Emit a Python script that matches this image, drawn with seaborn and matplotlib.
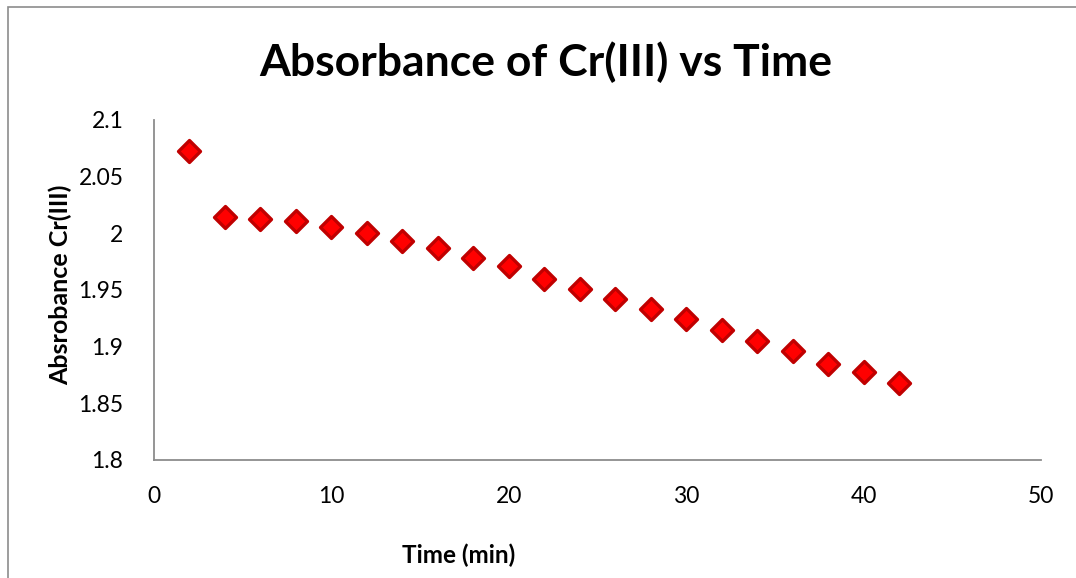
import matplotlib
matplotlib.use("Agg")
import matplotlib.pyplot as plt
import seaborn as sns
import pandas as pd
from matplotlib.patches import Rectangle

# Reaction data: absorbance of Cr(III) sampled every 2 minutes
time_min = [2, 4, 6, 8, 10, 12, 14, 16, 18, 20, 22,
            24, 26, 28, 30, 32, 34, 36, 38, 40, 42]
absorbance = [2.073, 2.014, 2.013, 2.011, 2.006, 2.000, 1.993, 1.987,
              1.978, 1.971, 1.960, 1.951, 1.942, 1.933, 1.924, 1.915,
              1.905, 1.896, 1.885, 1.878, 1.868]

x_ticks = [0, 10, 20, 30, 40, 50]
y_ticks = [1.8, 1.85, 1.9, 1.95, 2.0, 2.05, 2.1]
y_tick_labels = ["1.8", "1.85", "1.9", "1.95", "2", "2.05", "2.1"]

title = "Absorbance of Cr(III) vs Time"
x_label = "Time (min)"
y_label = "Absrobance Cr(III)"

df = pd.DataFrame({"time": time_min, "absorbance": absorbance})

sns.set_theme(style="white")
plt.rcParams["font.family"] = ["Lato", "DejaVu Sans"]

W, H = 1076, 578
fig = plt.figure(figsize=(W / 100, H / 100), dpi=100)
fig.patch.set_facecolor("white")

# outer chart frame (top and left edges visible)
fig.add_artist(Rectangle((8 / W, -0.05), 1.2, (H - 7) / H + 0.05,
                         transform=fig.transFigure, fill=False,
                         edgecolor="#8c8c8c", linewidth=1.2))

ax = fig.add_axes([154 / W, 1 - 460 / H, (1041 - 154) / W, (460 - 120) / H])

sns.scatterplot(data=df, x="time", y="absorbance", ax=ax, marker="D",
                s=125, color="#ff0000", edgecolor="#c00000", linewidth=2.4,
                zorder=3, legend=False)

ax.set_xlim(0, 50)
ax.set_ylim(1.8, 2.1)
ax.set_xticks(x_ticks)
ax.set_xticklabels([str(t) for t in x_ticks])
ax.set_yticks(y_ticks)
ax.set_yticklabels(y_tick_labels)

for side in ("top", "right"):
    ax.spines[side].set_visible(False)
for side in ("left", "bottom"):
    ax.spines[side].set_color("#8c8c8c")
    ax.spines[side].set_linewidth(1.3)

ax.tick_params(axis="both", direction="out", length=5, width=1.3,
               color="#8c8c8c", labelsize=16.5, labelcolor="black")
ax.tick_params(axis="x", pad=13.5)
ax.tick_params(axis="y", pad=17)
ax.set_xlabel("")
ax.set_ylabel("")
ax.grid(False)

fig.text(546 / W, 1 - 62 / H, title, ha="center", va="center",
         fontsize=32, fontweight="bold", color="black")
fig.text(459 / W, 1 - 555 / H, x_label, ha="center", va="center",
         fontsize=17.5, fontweight="bold", color="black")
fig.text(60 / W, 1 - 285 / H, y_label, ha="center", va="center",
         rotation=90, fontsize=18, fontweight="bold", color="black")

fig.savefig("out.png", dpi=100, facecolor="white")
